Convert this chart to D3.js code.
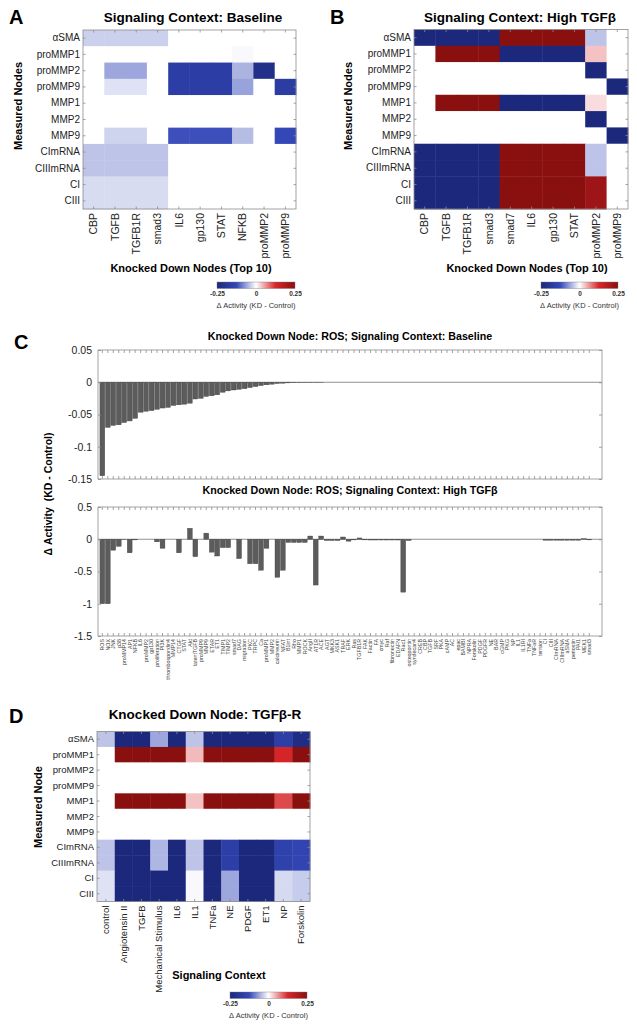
<!DOCTYPE html>
<html><head><meta charset="utf-8">
<script src="https://cdn.jsdelivr.net/npm/d3@7/dist/d3.min.js"></script>
<style>
body{margin:0;background:#fff}
text{font-family:"Liberation Sans",Arial,Helvetica,sans-serif}
</style>
</head><body>
<svg id="c" width="637" height="1027"></svg>
<script>
// ---------------- DATA ----------------
const measuredNodes = ["αSMA","proMMP1","proMMP2","proMMP9","MMP1","MMP2","MMP9","CImRNA","CIIImRNA","CI","CIII"];

const colsA = ["CBP","TGFB","TGFB1R","smad3","IL6","gp130","STAT","NFKB","proMMP2","proMMP9"];
const valsA = [
  [-0.032,-0.032,-0.032,-0.032,0,0,0,0,0,0],
  [0,0,0,0,0,0,0,-0.004,0,0],
  [0,-0.06,-0.06,0,-0.165,-0.165,-0.165,-0.052,-0.22,0],
  [0,-0.02,-0.02,0,-0.165,-0.165,-0.165,-0.063,0,-0.17],
  [0,0,0,0,0,0,0,0,0,0],
  [0,0,0,0,0,0,0,0,0,0],
  [0,-0.03,-0.03,0,-0.12,-0.12,-0.12,-0.045,0,-0.13],
  [-0.04,-0.04,-0.04,-0.04,0,0,0,0,0,0],
  [-0.04,-0.04,-0.04,-0.04,0,0,0,0,0,0],
  [-0.024,-0.024,-0.024,-0.024,0,0,0,0,0,0],
  [-0.024,-0.024,-0.024,-0.024,0,0,0,0,0,0]
];

const colsB = ["CBP","TGFB","TGFB1R","smad3","smad7","IL6","gp130","STAT","proMMP2","proMMP9"];
const valsB = [
  [-0.25,-0.25,-0.25,-0.25,0.25,0.25,0.25,0.25,-0.04,0],
  [0,0.25,0.25,0.25,-0.25,-0.25,-0.25,-0.25,0.035,0],
  [0,0,0,0,0,0,0,0,-0.25,0],
  [0,0,0,0,0,0,0,0,0,-0.25],
  [0,0.25,0.25,0.25,-0.25,-0.25,-0.25,-0.25,0.02,0],
  [0,0,0,0,0,0,0,0,-0.25,0],
  [0,0,0,0,0,0,0,0,0,-0.25],
  [-0.25,-0.25,-0.25,-0.25,0.25,0.25,0.25,0.25,-0.04,0],
  [-0.25,-0.25,-0.25,-0.25,0.25,0.25,0.25,0.25,-0.04,0],
  [-0.25,-0.25,-0.25,-0.25,0.25,0.25,0.25,0.25,0.22,0],
  [-0.25,-0.25,-0.25,-0.25,0.25,0.25,0.25,0.25,0.22,0]
];

const colsD = ["control","Angiotensin II","TGFB","Mechanical Stimulus","IL6","IL1","TNFa","NE","PDGF","ET1","NP","Forskolin"];
const valsD = [
  [-0.04,-0.25,-0.25,-0.06,-0.25,-0.04,-0.25,-0.25,-0.25,-0.25,-0.16,-0.23],
  [0,0.25,0.25,0.25,0.25,0.04,0.25,0.25,0.25,0.25,0.13,0.25],
  [0,0,0,0,0,0,0,0,0,0,0,0],
  [0,0,0,0,0,0,0,0,0,0,0,0],
  [0,0.25,0.25,0.25,0.25,0.035,0.25,0.25,0.25,0.25,0.105,0.25],
  [0,0,0,0,0,0,0,0,0,0,0,0],
  [0,0,0,0,0,0,0,0,0,0,0,0],
  [-0.04,-0.25,-0.25,-0.05,-0.25,-0.04,-0.25,-0.16,-0.25,-0.25,-0.15,-0.14],
  [-0.04,-0.25,-0.25,-0.05,-0.25,-0.04,-0.25,-0.16,-0.25,-0.25,-0.15,-0.14],
  [-0.02,-0.25,-0.25,-0.25,-0.25,-0.004,-0.25,-0.06,-0.25,-0.25,-0.025,-0.035],
  [-0.02,-0.25,-0.25,-0.25,-0.25,-0.004,-0.25,-0.06,-0.25,-0.25,-0.025,-0.035]
];

const knockNodes = ["ROS","NOX","JNK","p38","proMMP14","AP1","NFKB","IL6","proMMP2","gp130",
 "proliferation","PI3K","thrombospondin4","MMP14","CTGF","STAT","Akt","latentTGFB","proMMP9","MMP9",
 "ETAR","ET1","TIMP1","TIMP2","smad7","DAG","migration","PKC","TRPC","Ca",
 "proMMP1","MMP2","calcineurin","NFAT","B1int","Rho","MMP1","ROCK","AngII","AT1R",
 "ACE","AGT","MKK3","ASK1","TRAF","ERK","Ras","TGFB1R","FAK","Factin",
 "FA","cmyc","Raf","fibronectin","EDAFN","Rac1","osteopontin","syndecan4","CREB","CBP",
 "TGFB","SRF","PKA","cAMP","AC","epac","BAMBI","NPRA","Forskolin","PDGF",
 "PDGFR","NE","BAR","cGMP","PKG","NP","IL1","IL1RI","TNFa","TNFaR",
 "tension","CI","CIII","CImRNA","CIIImRNA","aSMA","periostin","PAI1","MEK1","smad3"];

const rosBaseline = [-0.145,-0.070,-0.067,-0.066,-0.0625,-0.060,-0.056,-0.0465,-0.045,-0.044,
 -0.042,-0.040,-0.039,-0.036,-0.035,-0.034,-0.0325,-0.026,-0.025,-0.022,
 -0.021,-0.0195,-0.0155,-0.0134,-0.012,-0.011,-0.010,-0.0083,-0.0067,-0.0052,
 -0.004,-0.003,-0.002,-0.0015,-0.001,-0.0008,-0.0006,-0.0004,-0.0003,-0.0002,
 -0.0001,0,0,0,0,0,0,0,0,0,
 0,0,0,0,0,0,0,0,0,0,
 0,0,0,0,0,0,0,0,0,0,
 0,0,0,0,0,0,0,0,0,0,
 0,0,0,0,0,0,0,0,0,0];

const rosHighTGFB = [-1.0,-1.0,-0.17,-0.11,-0.004,-0.21,-0.01,0,0,0,
 -0.04,-0.14,0,0,-0.21,0,0.17,-0.27,0,0.095,
 -0.20,-0.26,-0.13,-0.13,0,-0.30,0,-0.38,-0.38,-0.48,
 -0.14,0,-0.59,-0.48,-0.05,-0.05,-0.05,-0.05,0.05,-0.71,
 0.05,-0.02,-0.02,-0.02,0.035,-0.03,-0.01,0.02,-0.01,-0.012,
 -0.012,-0.012,-0.012,-0.012,-0.012,-0.82,-0.02,0,0,0,
 0,0,0,0,0,0,0,0,0,0,
 0,0,0,0,0,0,0,0,0,0,
 0,-0.015,-0.015,-0.015,-0.015,-0.015,-0.015,-0.015,0.01,-0.01];

const ticksTop = [0.05,0,-0.05,-0.1,-0.15];
const ticksBottom = [0.5,0,-0.5,-1,-1.5];
const cbarTicks = [-0.25,0,0.25];
const colorStops = [-0.25,-0.125,0,0.125,0.25];
const colorRange = ["#1c287c","#3448b8","#ffffff","#d8262a","#8a1010"];

// ---------------- DRAW ----------------
const svg = d3.select("#c");
const color = d3.scaleLinear().domain(colorStops).range(colorRange).clamp(true);
const FRAME = "#8c8c8c";

function styleAxis(g, fs){
  g.select(".domain").remove();
  g.selectAll(".tick line").attr("stroke", FRAME).attr("stroke-width",0.8);
  g.selectAll(".tick text").attr("fill","#222").style("font-size", fs+"px");
}

function heatmap(o){
  const g = svg.append("g");
  const xs = d3.scaleBand().domain(o.cols).range([o.x0,o.x1]);
  const ys = d3.scaleBand().domain(o.rows).range([o.y0,o.y1]);
  o.rows.forEach((r,i)=>{
    g.selectAll(null).data(o.vals[i]).enter().append("rect")
      .attr("x",(d,j)=>xs(o.cols[j])).attr("y",ys(r))
      .attr("width",xs.bandwidth()+0.4).attr("height",ys.bandwidth()+0.4)
      .attr("fill",d=>color(d));
  });
  g.append("rect").attr("x",o.x0).attr("y",o.y0).attr("width",o.x1-o.x0).attr("height",o.y1-o.y0)
    .attr("fill","none").attr("stroke",FRAME).attr("stroke-width",0.8);
  const ax = g.append("g").attr("transform",`translate(${o.x0},0)`)
    .call(d3.axisLeft(ys).tickSize(-2.5).tickPadding(3));
  styleAxis(ax, o.rowFont);
  g.append("g").attr("transform",`translate(${o.x1},0)`)
    .call(d3.axisRight(ys).tickSize(-2.5).tickFormat(""))
    .call(a=>styleAxis(a,1));
  g.append("g").attr("transform",`translate(0,${o.y0})`)
    .call(d3.axisTop(xs).tickSize(-2.5).tickFormat(""))
    .call(a=>styleAxis(a,1));
  const bx = g.append("g").attr("transform",`translate(0,${o.y1})`)
    .call(d3.axisBottom(xs).tickSize(-2.5).tickPadding(4));
  styleAxis(bx, o.colFont);
  bx.selectAll(".tick text").attr("transform","rotate(-90)").attr("text-anchor","end")
    .attr("x",-4).attr("y",0).attr("dy","0.35em");
  // titles
  svg.append("text").attr("x",o.titleX).attr("y",o.titleY).attr("text-anchor","middle")
    .style("font-size","13.5px").style("font-weight","bold").text(o.title);
  svg.append("text").attr("x",o.xtX).attr("y",o.xtY).attr("text-anchor","middle")
    .style("font-size","11px").style("font-weight","bold").text(o.xTitle);
  svg.append("text").attr("transform",`translate(${o.ytX},${o.ytY}) rotate(-90)`).attr("text-anchor","middle")
    .style("font-size","11px").style("font-weight","bold").text(o.yTitle);
  colorbar(o.cb[0],o.cb[1],o.cb[2],o.cb[3], o.id);
}

function colorbar(x0,x1,y0,y1,id){
  const grad = svg.append("defs").append("linearGradient").attr("id","cg"+id)
    .attr("x1","0%").attr("x2","100%").attr("y1","0%").attr("y2","0%");
  const t = d3.scaleLinear().domain([-0.25,0.25]).range([0,100]);
  colorStops.forEach((s,i)=>grad.append("stop").attr("offset",t(s)+"%").attr("stop-color",colorRange[i]));
  svg.append("rect").attr("x",x0).attr("y",y0).attr("width",x1-x0).attr("height",y1-y0)
    .attr("fill",`url(#cg${id})`).attr("stroke","#777").attr("stroke-width",0.4);
  const cs = d3.scaleLinear().domain([-0.25,0.25]).range([x0,x1]);
  const a = svg.append("g").attr("transform",`translate(0,${y1})`)
    .call(d3.axisBottom(cs).tickValues(cbarTicks).tickSize(0).tickPadding(2.5).tickFormat(d=>d===0?"0":String(d)));
  a.select(".domain").remove();
  a.selectAll("text").attr("fill","#333").style("font-size","6.5px").style("font-weight","bold");
  svg.append("text").attr("x",(x0+x1)/2).attr("y",y1+19).attr("text-anchor","middle")
    .attr("fill","#333").style("font-size","7.5px").text("Δ Activity (KD - Control)");
}

function panelLetter(l,x,y){
  svg.append("text").attr("x",x).attr("y",y).style("font-size","20px").style("font-weight","bold").text(l);
}

// Panel A
panelLetter("A",9,24);
heatmap({id:"A",x0:83,x1:296,y0:30,y1:209,rows:measuredNodes,cols:colsA,vals:valsA,rowFont:10,colFont:10.5,
  title:"Signaling Context: Baseline",titleX:193,titleY:22,
  xTitle:"Knocked Down Nodes (Top 10)",xtX:191,xtY:272,
  yTitle:"Measured Nodes",ytX:22,ytY:106,cb:[217,295,282,288.5]});

// Panel B
panelLetter("B",330,24);
heatmap({id:"B",x0:414,x1:628,y0:29.5,y1:209,rows:measuredNodes,cols:colsB,vals:valsB,rowFont:10,colFont:10.5,
  title:"Signaling Context: High TGFβ",titleX:520,titleY:22,
  xTitle:"Knocked Down Nodes (Top 10)",xtX:527,xtY:272,
  yTitle:"Measured Nodes",ytX:352,ytY:106,cb:[541,618,282,288.5]});

// Panel D
panelLetter("D",9,723);
heatmap({id:"D",x0:97,x1:310,y0:731.5,y1:901.5,rows:measuredNodes,cols:colsD,vals:valsD,rowFont:9.5,colFont:9.5,
  title:"Knocked Down Node: TGFβ-R",titleX:205,titleY:719,
  xTitle:"Signaling Context",xtX:219,xtY:979,
  yTitle:"Measured Node",ytX:42,ytY:807,cb:[230,307,992,998.5]});

// Panel C
panelLetter("C",14,349);
const xC = d3.scaleBand().domain(knockNodes).range([99.6,592]);

function barChart(o){
  const g = svg.append("g");
  const y = d3.scaleLinear().domain(o.domain).range([o.y1,o.y0]);
  g.append("line").attr("x1",o.x0).attr("x2",o.x1).attr("y1",y(0)).attr("y2",y(0))
    .attr("stroke","#777").attr("stroke-width",0.8);
  const bw = xC.bandwidth();
  g.selectAll(null).data(o.vals).enter().append("rect")
    .attr("x",(d,i)=>xC(knockNodes[i])+bw*0.06).attr("width",bw*0.88)
    .attr("y",d=>Math.min(y(0),y(d))).attr("height",d=>Math.abs(y(d)-y(0)))
    .attr("fill","#5c5c5c").attr("stroke","#3a3a3a").attr("stroke-width",0.35);
  g.append("rect").attr("x",o.x0).attr("y",o.y0).attr("width",o.x1-o.x0).attr("height",o.y1-o.y0)
    .attr("fill","none").attr("stroke",FRAME).attr("stroke-width",0.8);
  const la = g.append("g").attr("transform",`translate(${o.x0},0)`)
    .call(d3.axisLeft(y).tickValues(o.ticks).tickSize(-3).tickPadding(6).tickFormat(d=>d===0?"0":String(d)));
  styleAxis(la,10.5);
  g.append("g").attr("transform",`translate(${o.x1},0)`)
    .call(d3.axisRight(y).tickValues(o.ticks).tickSize(-3).tickFormat("")).call(a=>styleAxis(a,1));
  g.append("g").attr("transform",`translate(0,${o.y0})`)
    .call(d3.axisTop(xC).tickSize(-3).tickFormat("")).call(a=>styleAxis(a,1));
  const ba = g.append("g").attr("transform",`translate(0,${o.y1})`)
    .call(d3.axisBottom(xC).tickSize(-3).tickPadding(3));
  styleAxis(ba,5.3);
  if(o.labels){
    ba.selectAll(".tick text").attr("transform","rotate(-90)").attr("text-anchor","end")
      .attr("x",-3).attr("y",0).attr("dy","0.35em").attr("fill","#444");
  } else {
    ba.selectAll(".tick text").remove();
  }
  svg.append("text").attr("x",(o.x0+o.x1)/2).attr("y",o.titleY).attr("text-anchor","middle")
    .style("font-size","10.7px").style("font-weight","bold").text(o.title);
}

barChart({x0:98,x1:602,y0:350,y1:479,domain:[-0.15,0.05],ticks:ticksTop,vals:rosBaseline,labels:false,
  title:"Knocked Down Node: ROS; Signaling Context: Baseline",titleY:340});
barChart({x0:98,x1:602,y0:507,y1:636,domain:[-1.5,0.5],ticks:ticksBottom,vals:rosHighTGFB,labels:true,
  title:"Knocked Down Node: ROS; Signaling Context: High TGFβ",titleY:494});

svg.append("text").attr("transform","translate(52,494) rotate(-90)").attr("text-anchor","middle")
  .style("font-size","10.5px").style("font-weight","bold").style("white-space","pre")
  .text("Δ Activity  (KD - Control)");
</script>
</body></html>
